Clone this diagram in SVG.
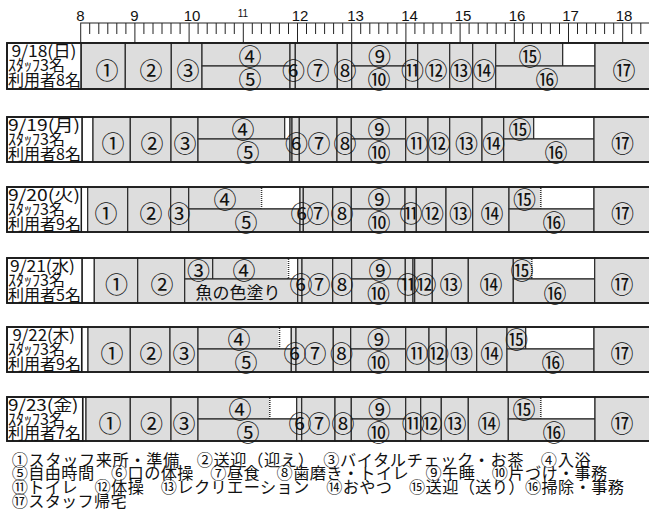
<svg xmlns="http://www.w3.org/2000/svg" width="649" height="520" viewBox="0 0 649 520">
<style>
.c{fill:#dddddd;stroke:#2a2a2a;stroke-width:1.2}
.w{fill:#fff;stroke:#2a2a2a;stroke-width:1.2}
.lb{fill:#fff;stroke:#1a1a1a;stroke-width:1.5}
.fr{fill:none;stroke:#1a1a1a;stroke-width:1.8}
.wl{stroke:#fff;stroke-width:2}
.dt{stroke:#333;stroke-width:1.6;stroke-dasharray:1 1}
.n{font-family:"Noto Sans CJK JP",sans-serif;font-size:23px;text-anchor:middle;dominant-baseline:central;fill:#111}
.k{font-family:"Noto Sans CJK JP",sans-serif;font-size:17px;text-anchor:middle;dominant-baseline:central;fill:#111}
.t{font-family:"Noto Sans CJK JP",sans-serif;font-size:16px;fill:#111}
.lg{font-family:"Noto Sans CJK JP",sans-serif;font-size:16.2px;fill:#111}
.hr{font-family:"Liberation Sans",sans-serif;font-size:15px;text-anchor:middle;fill:#111}
</style>

<g id="ruler">
<rect x="80.7" y="23" width="570" height="20" fill="#fff" stroke="#222" stroke-width="1"/>
<path d="M134.9 23V43M189.1 23V43M243.3 23V43M297.5 23V43M351.7 23V43M405.9 23V43M460.1 23V43M514.3 23V43M568.5 23V43M622.7 23V43" stroke="#222" stroke-width="1"/>
<path d="M89.7 23V34M98.8 23V34M107.8 23V34M116.8 23V34M125.9 23V34M143.9 23V34M153 23V34M162 23V34M171 23V34M180.1 23V34M198.1 23V34M207.2 23V34M216.2 23V34M225.2 23V34M234.3 23V34M252.3 23V34M261.4 23V34M270.4 23V34M279.4 23V34M288.5 23V34M306.5 23V34M315.6 23V34M324.6 23V34M333.6 23V34M342.7 23V34M360.7 23V34M369.8 23V34M378.8 23V34M387.8 23V34M396.9 23V34M414.9 23V34M424 23V34M433 23V34M442 23V34M451.1 23V34M469.1 23V34M478.2 23V34M487.2 23V34M496.2 23V34M505.3 23V34M523.3 23V34M532.4 23V34M541.4 23V34M550.4 23V34M559.5 23V34M577.5 23V34M586.6 23V34M595.6 23V34M604.6 23V34M613.7 23V34M631.7 23V34M640.8 23V34" stroke="#222" stroke-width="1"/>
<text class="hr" x="80.5" y="20.5">8</text>
<text class="hr" x="134.5" y="20.5">9</text>
<text class="hr" x="192" y="20.5">10</text>
<text class="hr" x="243" y="16.7" style="font-size:10px">11</text>
<text class="hr" x="300" y="20.5">12</text>
<text class="hr" x="355.5" y="20.5">13</text>
<text class="hr" x="409.5" y="20.5">14</text>
<text class="hr" x="463" y="20.5">15</text>
<text class="hr" x="517" y="20.5">16</text>
<text class="hr" x="570.5" y="20.5">17</text>
<text class="hr" x="624" y="20.5">18</text>
</g>

<g id="day-0918">
<rect class="c" x="81" y="43" width="44.3" height="46"/>
<rect class="c" x="125.3" y="43" width="46" height="46"/>
<rect class="c" x="171.3" y="43" width="30.7" height="46"/>
<rect class="c" x="202" y="43" width="88" height="23"/>
<rect class="c" x="202" y="66" width="88" height="23"/>
<rect class="c" x="290" y="43" width="5.3" height="46"/>
<rect class="c" x="295.3" y="43" width="42" height="46"/>
<rect class="c" x="337.3" y="43" width="14.4" height="46"/>
<rect class="c" x="351.7" y="43" width="54" height="23"/>
<rect class="c" x="351.7" y="66" width="54" height="23"/>
<rect class="c" x="405.7" y="43" width="12" height="46"/>
<rect class="c" x="417.7" y="43" width="32" height="46"/>
<rect class="c" x="449.7" y="43" width="23" height="46"/>
<rect class="c" x="472.7" y="43" width="23" height="46"/>
<rect class="c" x="495.7" y="43" width="67" height="23"/>
<rect class="w" x="562.7" y="43" width="32.3" height="23"/>
<rect class="c" x="495.7" y="66" width="99.3" height="23"/>
<rect class="c" x="595" y="43" width="55" height="46"/>
<rect class="lb" x="7" y="43" width="74" height="46"/>
<rect class="fr" x="7" y="43" width="643" height="46"/>
<text class="t" x="11.5" y="57" textLength="65" lengthAdjust="spacingAndGlyphs">9/18(日)</text>
<text class="t" x="8" y="71">ｽﾀｯﾌ3名</text>
<text class="t" x="8" y="86">利用者8名</text>
<text class="n" x="107" y="69">①</text>
<text class="n" x="151" y="69">②</text>
<text class="n" x="188" y="69">③</text>
<text class="n" x="250" y="55">④</text>
<text class="n" x="250" y="78">⑤</text>
<text class="n" x="293.5" y="69">⑥</text>
<text class="n" x="318" y="69">⑦</text>
<text class="n" x="345" y="69">⑧</text>
<text class="n" x="379.5" y="55">⑨</text>
<text class="n" x="379" y="78">⑩</text>
<text class="n" x="412.5" y="69">⑪</text>
<text class="n" x="436" y="69">⑫</text>
<text class="n" x="461" y="69">⑬</text>
<text class="n" x="484" y="69">⑭</text>
<text class="n" x="530" y="55">⑮</text>
<text class="n" x="547" y="78">⑯</text>
<text class="n" x="624" y="69">⑰</text>
</g>

<g id="day-0919">
<rect class="w" x="82" y="117" width="11" height="45"/>
<rect class="c" x="93" y="117" width="37.3" height="45"/>
<rect class="c" x="130.3" y="117" width="40.7" height="45"/>
<rect class="c" x="171" y="117" width="27" height="45"/>
<rect class="c" x="198" y="117" width="86.7" height="22"/>
<rect class="w" x="284.7" y="117" width="5.3" height="22"/>
<rect class="c" x="198" y="139" width="92" height="23"/>
<rect class="c" x="290" y="117" width="2" height="45"/>
<rect class="c" x="292" y="117" width="7.3" height="45"/>
<rect class="c" x="299.3" y="117" width="37.7" height="45"/>
<rect class="c" x="337" y="117" width="14.3" height="45"/>
<rect class="c" x="351.3" y="117" width="54.4" height="22"/>
<rect class="c" x="351.3" y="139" width="54.4" height="23"/>
<rect class="c" x="405.7" y="117" width="22.3" height="45"/>
<rect class="c" x="428" y="117" width="21.7" height="45"/>
<rect class="c" x="449.7" y="117" width="32.3" height="45"/>
<rect class="c" x="482" y="117" width="21.7" height="45"/>
<rect class="c" x="503.7" y="117" width="30" height="22"/>
<rect class="w" x="533.7" y="117" width="60.3" height="22"/>
<rect class="c" x="503.7" y="139" width="90.3" height="23"/>
<rect class="c" x="594" y="117" width="56" height="45"/>
<rect class="lb" x="7" y="117" width="75" height="45"/>
<rect class="fr" x="7" y="117" width="643" height="45"/>
<text class="t" x="8" y="131" textLength="72" lengthAdjust="spacingAndGlyphs">9/19(月)</text>
<text class="t" x="8" y="145">ｽﾀｯﾌ3名</text>
<text class="t" x="8" y="160">利用者8名</text>
<text class="n" x="113" y="142">①</text>
<text class="n" x="152" y="142">②</text>
<text class="n" x="185" y="142">③</text>
<text class="n" x="243" y="128">④</text>
<text class="n" x="248" y="151">⑤</text>
<text class="n" x="296.5" y="142">⑥</text>
<text class="n" x="319" y="142">⑦</text>
<text class="n" x="345" y="142">⑧</text>
<text class="n" x="379" y="128">⑨</text>
<text class="n" x="379" y="151">⑩</text>
<text class="n" x="416.7" y="142">⑪</text>
<text class="n" x="439" y="142">⑫</text>
<text class="n" x="466.5" y="142">⑬</text>
<text class="n" x="493.5" y="142">⑭</text>
<text class="n" x="520" y="128">⑮</text>
<text class="n" x="556" y="151">⑯</text>
<text class="n" x="622.5" y="142">⑰</text>
</g>

<g id="day-0920">
<rect class="w" x="81.3" y="187" width="6.4" height="45"/>
<rect class="c" x="87.7" y="187" width="40" height="45"/>
<rect class="c" x="127.7" y="187" width="43" height="45"/>
<rect class="c" x="170.7" y="187" width="18" height="45"/>
<rect class="c" x="188.7" y="187" width="72.3" height="22"/>
<rect class="w" x="261" y="187" width="39" height="22"/>
<rect class="c" x="188.7" y="209" width="111.3" height="23"/>
<rect class="c" x="300" y="187" width="3.3" height="45"/>
<rect class="c" x="303.3" y="187" width="29.4" height="45"/>
<rect class="c" x="332.7" y="187" width="18.6" height="45"/>
<rect class="c" x="351.3" y="187" width="53.7" height="22"/>
<rect class="c" x="351.3" y="209" width="53.7" height="23"/>
<rect class="c" x="405" y="187" width="11.3" height="45"/>
<rect class="c" x="416.3" y="187" width="29.7" height="45"/>
<rect class="c" x="446" y="187" width="26.7" height="45"/>
<rect class="c" x="472.7" y="187" width="36.3" height="45"/>
<rect class="c" x="509" y="187" width="31.7" height="22"/>
<rect class="w" x="540.7" y="187" width="53.3" height="22"/>
<rect class="c" x="509" y="209" width="85" height="23"/>
<rect class="c" x="594" y="187" width="56" height="45"/>
<line class="wl" x1="261" y1="188" x2="261" y2="208"/>
<line class="dt" x1="261.5" y1="188" x2="261.5" y2="208"/>
<line class="wl" x1="540.7" y1="188" x2="540.7" y2="208"/>
<line class="dt" x1="540.7" y1="188" x2="540.7" y2="208"/>
<rect class="lb" x="7" y="187" width="74.3" height="45"/>
<rect class="fr" x="7" y="187" width="643" height="45"/>
<text class="t" x="8" y="201" textLength="72" lengthAdjust="spacingAndGlyphs">9/20(火)</text>
<text class="t" x="8" y="215">ｽﾀｯﾌ3名</text>
<text class="t" x="8" y="230">利用者9名</text>
<text class="n" x="106" y="212">①</text>
<text class="n" x="151" y="212">②</text>
<text class="n" x="179" y="212">③</text>
<text class="n" x="225" y="198">④</text>
<text class="n" x="246" y="221">⑤</text>
<text class="n" x="302" y="212">⑥</text>
<text class="n" x="318" y="212">⑦</text>
<text class="n" x="342" y="212">⑧</text>
<text class="n" x="379" y="198">⑨</text>
<text class="n" x="379" y="221">⑩</text>
<text class="n" x="411" y="212">⑪</text>
<text class="n" x="432.5" y="212">⑫</text>
<text class="n" x="460.5" y="212">⑬</text>
<text class="n" x="492" y="212">⑭</text>
<text class="n" x="524.5" y="198">⑮</text>
<text class="n" x="554" y="221">⑯</text>
<text class="n" x="622.5" y="212">⑰</text>
</g>

<g id="day-0921">
<rect class="w" x="82" y="258" width="12.3" height="45"/>
<rect class="c" x="94.3" y="258" width="43.4" height="45"/>
<rect class="c" x="137.7" y="258" width="47" height="45"/>
<rect class="c" x="184.7" y="258" width="28" height="21"/>
<rect class="c" x="212.7" y="258" width="75.3" height="21"/>
<rect class="w" x="288" y="258" width="9.7" height="21"/>
<rect class="c" x="184.7" y="279" width="113" height="24"/>
<rect class="c" x="297.7" y="258" width="4.3" height="45"/>
<rect class="c" x="302" y="258" width="30.7" height="45"/>
<rect class="c" x="332.7" y="258" width="19" height="45"/>
<rect class="c" x="351.7" y="258" width="53.6" height="21"/>
<rect class="c" x="351.7" y="279" width="53.6" height="24"/>
<rect class="c" x="405.3" y="258" width="7.7" height="45"/>
<rect class="c" x="413" y="258" width="1.7" height="45"/>
<rect class="c" x="414.7" y="258" width="17.6" height="45"/>
<rect class="c" x="432.3" y="258" width="36" height="45"/>
<rect class="c" x="468.3" y="258" width="45" height="45"/>
<rect class="c" x="513.3" y="258" width="18.4" height="21"/>
<rect class="w" x="531.7" y="258" width="63" height="21"/>
<rect class="c" x="513.3" y="279" width="81.4" height="24"/>
<rect class="c" x="594.7" y="258" width="55.3" height="45"/>
<line class="wl" x1="288" y1="259" x2="288" y2="278"/>
<line class="dt" x1="288.5" y1="259" x2="288.5" y2="278"/>
<line class="wl" x1="531.7" y1="259" x2="531.7" y2="278"/>
<line class="dt" x1="531.7" y1="259" x2="531.7" y2="278"/>
<rect class="lb" x="7" y="258" width="75" height="45"/>
<rect class="fr" x="7" y="258" width="643" height="45"/>
<text class="t" x="10" y="272" textLength="65" lengthAdjust="spacingAndGlyphs">9/21(水)</text>
<text class="t" x="8" y="286">ｽﾀｯﾌ3名</text>
<text class="t" x="8" y="301">利用者5名</text>
<text class="n" x="116.5" y="283">①</text>
<text class="n" x="162" y="283">②</text>
<text class="n" x="198.5" y="269">③</text>
<text class="n" x="244" y="269">④</text>
<text class="k" x="238" y="291.5">魚の色塗り</text>
<text class="n" x="301" y="283">⑥</text>
<text class="n" x="319" y="283">⑦</text>
<text class="n" x="342" y="283">⑧</text>
<text class="n" x="380" y="269">⑨</text>
<text class="n" x="378.5" y="292">⑩</text>
<text class="n" x="408" y="283">⑪</text>
<text class="n" x="425" y="283">⑫</text>
<text class="n" x="451" y="283">⑬</text>
<text class="n" x="491" y="283">⑭</text>
<text class="n" x="522" y="269">⑮</text>
<text class="n" x="555" y="292">⑯</text>
<text class="n" x="622" y="283">⑰</text>
</g>

<g id="day-0922">
<rect class="w" x="81.7" y="327" width="6.3" height="45"/>
<rect class="c" x="88" y="327" width="42.3" height="45"/>
<rect class="c" x="130.3" y="327" width="39.7" height="45"/>
<rect class="c" x="170" y="327" width="28" height="45"/>
<rect class="c" x="198" y="327" width="81" height="22"/>
<rect class="w" x="279" y="327" width="12.3" height="22"/>
<rect class="c" x="198" y="349" width="93.3" height="23"/>
<rect class="c" x="291.3" y="327" width="4.7" height="45"/>
<rect class="c" x="296" y="327" width="37.3" height="45"/>
<rect class="c" x="333.3" y="327" width="17.4" height="45"/>
<rect class="c" x="350.7" y="327" width="55" height="22"/>
<rect class="c" x="350.7" y="349" width="55" height="23"/>
<rect class="c" x="405.7" y="327" width="23.3" height="45"/>
<rect class="c" x="429" y="327" width="17.3" height="45"/>
<rect class="c" x="446.3" y="327" width="30.4" height="45"/>
<rect class="c" x="476.7" y="327" width="30.3" height="45"/>
<rect class="c" x="507" y="327" width="18.7" height="22"/>
<rect class="w" x="525.7" y="327" width="68.3" height="22"/>
<rect class="c" x="507" y="349" width="87" height="23"/>
<rect class="c" x="594" y="327" width="56" height="45"/>
<line class="wl" x1="279" y1="328" x2="279" y2="348"/>
<line class="dt" x1="279.5" y1="328" x2="279.5" y2="348"/>
<rect class="lb" x="7" y="327" width="74.7" height="45"/>
<rect class="fr" x="7" y="327" width="643" height="45"/>
<text class="t" x="12.5" y="341" textLength="62.5" lengthAdjust="spacingAndGlyphs">9/22(木)</text>
<text class="t" x="8" y="355">ｽﾀｯﾌ3名</text>
<text class="t" x="8" y="370">利用者9名</text>
<text class="n" x="112" y="352">①</text>
<text class="n" x="151" y="352">②</text>
<text class="n" x="184" y="352">③</text>
<text class="n" x="239" y="338">④</text>
<text class="n" x="246" y="361">⑤</text>
<text class="n" x="295" y="352">⑥</text>
<text class="n" x="315" y="352">⑦</text>
<text class="n" x="341.5" y="352">⑧</text>
<text class="n" x="378.5" y="338">⑨</text>
<text class="n" x="378.5" y="361">⑩</text>
<text class="n" x="417" y="352">⑪</text>
<text class="n" x="437.5" y="352">⑫</text>
<text class="n" x="461.5" y="352">⑬</text>
<text class="n" x="491.7" y="352">⑭</text>
<text class="n" x="516.5" y="338">⑮</text>
<text class="n" x="553" y="361">⑯</text>
<text class="n" x="622" y="352">⑰</text>
</g>

<g id="day-0923">
<rect class="w" x="82.7" y="397" width="3.3" height="44"/>
<rect class="c" x="86" y="397" width="44.3" height="44"/>
<rect class="c" x="130.3" y="397" width="40.7" height="44"/>
<rect class="c" x="171" y="397" width="27" height="44"/>
<rect class="c" x="198" y="397" width="71.3" height="22"/>
<rect class="w" x="269.3" y="397" width="27.4" height="22"/>
<rect class="c" x="198" y="419" width="98.7" height="22"/>
<rect class="c" x="296.7" y="397" width="5" height="44"/>
<rect class="c" x="301.7" y="397" width="33.3" height="44"/>
<rect class="c" x="335" y="397" width="16.3" height="44"/>
<rect class="c" x="351.3" y="397" width="54.4" height="22"/>
<rect class="c" x="351.3" y="419" width="54.4" height="22"/>
<rect class="c" x="405.7" y="397" width="15" height="44"/>
<rect class="c" x="420.7" y="397" width="20.6" height="44"/>
<rect class="c" x="441.3" y="397" width="27" height="44"/>
<rect class="c" x="468.3" y="397" width="40" height="44"/>
<rect class="c" x="508.3" y="397" width="32.4" height="22"/>
<rect class="w" x="540.7" y="397" width="54.3" height="22"/>
<rect class="c" x="508.3" y="419" width="86.7" height="22"/>
<rect class="c" x="595" y="397" width="55" height="44"/>
<line class="wl" x1="269.3" y1="398" x2="269.3" y2="418"/>
<line class="dt" x1="269.8" y1="398" x2="269.8" y2="418"/>
<line class="wl" x1="540.7" y1="398" x2="540.7" y2="418"/>
<line class="dt" x1="540.7" y1="398" x2="540.7" y2="418"/>
<rect class="lb" x="7" y="397" width="75.7" height="44"/>
<rect class="fr" x="7" y="397" width="643" height="44"/>
<text class="t" x="8" y="411" textLength="70.5" lengthAdjust="spacingAndGlyphs">9/23(金)</text>
<text class="t" x="8" y="425">ｽﾀｯﾌ3名</text>
<text class="t" x="8" y="439">利用者7名</text>
<text class="n" x="110" y="422">①</text>
<text class="n" x="151.5" y="422">②</text>
<text class="n" x="184" y="422">③</text>
<text class="n" x="240" y="408">④</text>
<text class="n" x="248" y="430.5">⑤</text>
<text class="n" x="300" y="422">⑥</text>
<text class="n" x="319" y="422">⑦</text>
<text class="n" x="343" y="422">⑧</text>
<text class="n" x="379.5" y="408">⑨</text>
<text class="n" x="378.5" y="430.5">⑩</text>
<text class="n" x="413.3" y="422">⑪</text>
<text class="n" x="431" y="422">⑫</text>
<text class="n" x="455" y="422">⑬</text>
<text class="n" x="489" y="422">⑭</text>
<text class="n" x="524" y="408">⑮</text>
<text class="n" x="554" y="430.5">⑯</text>
<text class="n" x="622" y="422">⑰</text>
</g>

<g id="legend">
<text class="lg" x="11.7" y="465.5" textLength="579" lengthAdjust="spacing">①スタッフ来所・準備　②送迎（迎え）　③バイタルチェック・お茶　④入浴</text>
<text class="lg" x="11.7" y="479" textLength="595.6" lengthAdjust="spacing">⑤自由時間　⑥口の体操　⑦昼食　⑧歯磨き・トイレ　⑨午睡　⑩片づけ・事務</text>
<text class="lg" x="11.7" y="493" textLength="612.3" lengthAdjust="spacing">⑪トイレ　⑫体操　⑬レクリエーション　⑭おやつ　⑮送迎（送り）⑯掃除・事務</text>
<text class="lg" x="11.7" y="507" textLength="115" lengthAdjust="spacing">⑰スタッフ帰宅</text>
</g>
</svg>
